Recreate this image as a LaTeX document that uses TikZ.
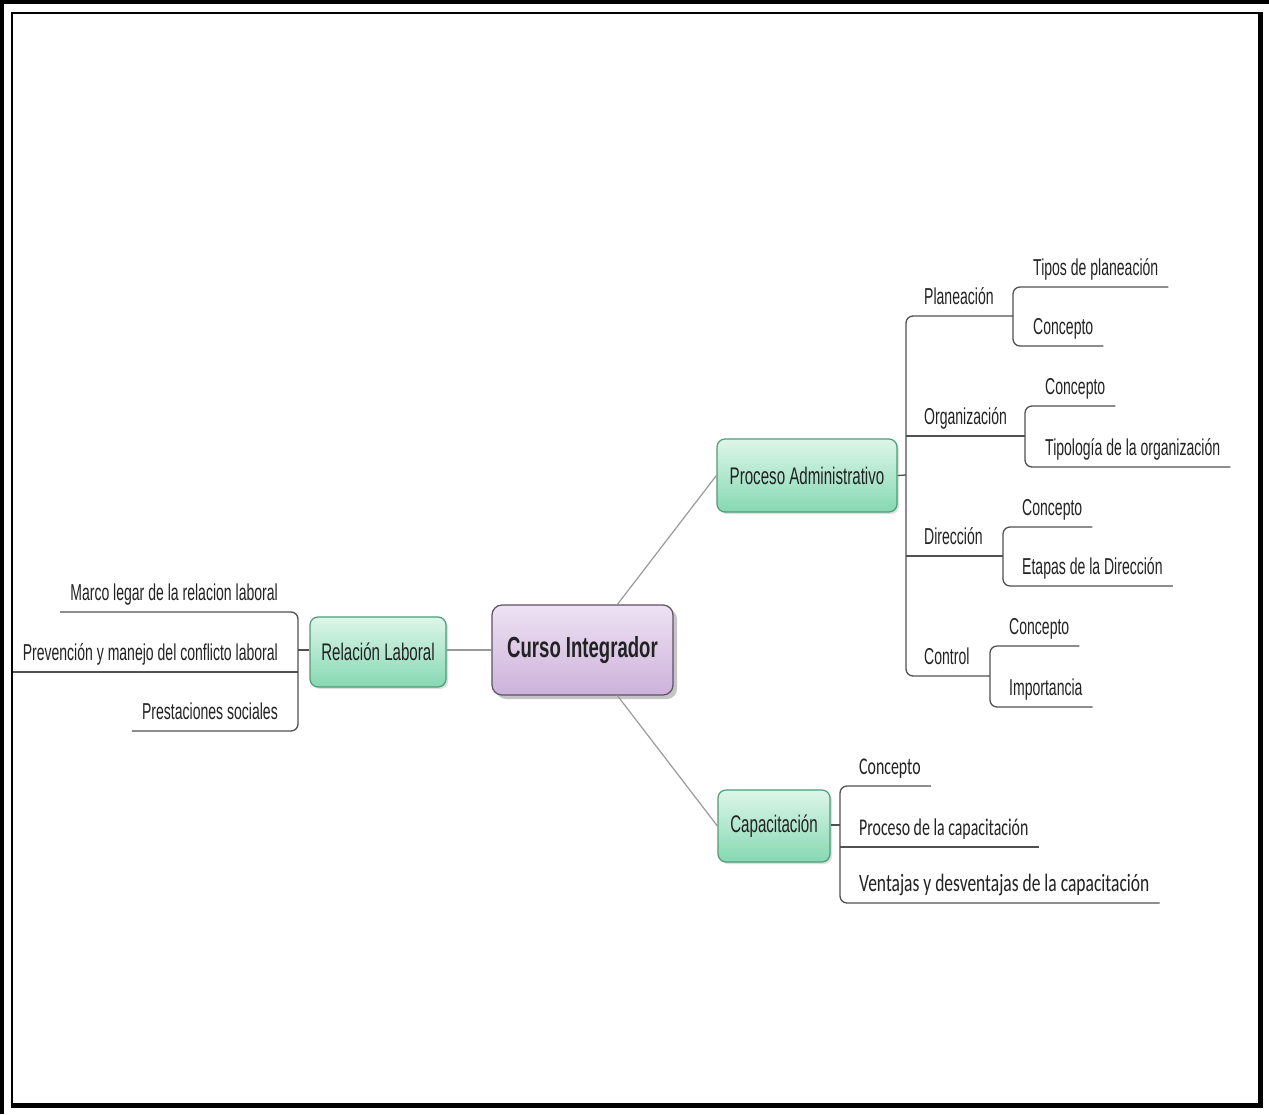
\documentclass[tikz,border=0pt]{standalone}
\usepackage{fontspec}
\usetikzlibrary{shadows}
\newfontfamily\narf[FakeStretch=0.61]{Liberation Sans}
\newfontfamily\narbox[FakeStretch=0.63]{Liberation Sans}
\newfontfamily\narbold[FakeStretch=0.64]{Liberation Sans Bold}
\newfontfamily\calf[FakeStretch=0.66]{Carlito}
\newfontfamily\calw[FakeStretch=0.70]{Carlito}
\definecolor{txt}{HTML}{222222}
\definecolor{ulc}{HTML}{505050}
\definecolor{conc}{HTML}{9A9A9A}
\definecolor{gtop}{HTML}{DDF6E9}
\definecolor{gbot}{HTML}{86D8B2}
\definecolor{gbord}{HTML}{4C9C78}
\definecolor{ptop}{HTML}{EEE2F3}
\definecolor{pbot}{HTML}{CDB2DB}
\definecolor{pbord}{HTML}{5E5066}
\tikzset{
  greenbox/.style={draw=gbord, line width=1.2pt, rounded corners=8pt,
    top color=gtop, bottom color=gbot, text=txt, align=center,
    font=\narbox\fontsize{24}{28}\selectfont,
    drop shadow={shadow xshift=2pt, shadow yshift=-2pt, opacity=0.25}},
  purplebox/.style={draw=pbord, line width=1.2pt, rounded corners=10pt,
    top color=ptop, bottom color=pbot, text=txt, align=center,
    font=\narbold\fontsize{29}{33}\selectfont,
    drop shadow={shadow xshift=4pt, shadow yshift=-4pt, opacity=0.45}},
  leaf/.style={inner xsep=10pt, inner ysep=5pt, text=txt,
    text height=17pt, text depth=6pt, font=\narf\fontsize{23}{27}\selectfont},
  leafr/.style={leaf, anchor=south west},
  leafl/.style={leaf, anchor=south east},
  leafc/.style={leafr, font=\calf\fontsize{24}{28}\selectfont},
  leafw/.style={leafr, font=\calw\fontsize{25}{29}\selectfont},
  ul/.style={draw=ulc, line width=1.3pt},
  conn/.style={draw=conc, line width=1.2pt},
}
\begin{document}
\begin{tikzpicture}[x=1pt,y=-1pt]
\useasboundingbox (0,0) rectangle (1269,1114);
% frame
\fill[white] (0,0) rectangle (1269,1114);
\fill[black] (0,0) rectangle (1269,4);
\fill[black] (0,0) rectangle (4,1114);
\fill[black] (11,12) rectangle (1263,14);
\fill[black] (11,12) rectangle (13,1108);
\fill[black] (1258,12) rectangle (1263,1108);
\fill[black] (11,1103) rectangle (1263,1108);

% coordinates
\coordinate (pv) at (906,475);
\coordinate (mt) at (906,316);
\coordinate (mb) at (906,676);
\coordinate (mo) at (906,436);
\coordinate (md) at (906,556);
\coordinate (pbt) at (1013,287);
\coordinate (pbm) at (1013,316);
\coordinate (pbb) at (1013,346);
\coordinate (obt) at (1025,406);
\coordinate (obm) at (1025,436);
\coordinate (obb) at (1025,467);
\coordinate (dbt) at (1003,527);
\coordinate (dbm) at (1003,556);
\coordinate (dbb) at (1003,586);
\coordinate (cbt) at (990,646);
\coordinate (cbm) at (990,676);
\coordinate (cbb) at (990,707);
\coordinate (rbt) at (298,612);
\coordinate (rbm) at (298,650);
\coordinate (rr2) at (298,672);
\coordinate (rbb) at (298,731);
\coordinate (kbt) at (840,786);
\coordinate (kbm) at (840,825);
\coordinate (kk2) at (840,847);
\coordinate (kbb) at (840,903);

% leaf nodes
\node[leafr] (plan) at (914,316) {Planeación};
\node[leafr] (org)  at (914,436) {Organización};
\node[leafr] (dir)  at (914,556) {Dirección};
\node[leafr] (ctrl) at (914,676) {Control};
\node[leafr] (p1) at (1023,287) {Tipos de planeación};
\node[leafr] (p2) at (1023,346) {Concepto};
\node[leafr] (o1) at (1035,406) {Concepto};
\node[leafr] (o2) at (1035,467) {Tipología de la organización};
\node[leafr] (d1) at (1012,527) {Concepto};
\node[leafr] (d2) at (1012,586) {Etapas de la Dirección};
\node[leafr] (c1) at (999,646) {Concepto};
\node[leafr] (c2) at (999,707) {Importancia};
\node[leafl] (r1) at (288,612) {Marco legar de la relacion laboral};
\node[leafl] (r2) at (288,672) {Prevención y manejo del conflicto laboral};
\node[leafl] (r3) at (288,731) {Prestaciones sociales};
\node[leafc] (k1) at (849,786) {Concepto};
\node[leafc] (k2) at (849,847) {Proceso de la capacitación};
\node[leafw] (k3) at (849,903) {Ventajas y desventajas de la capacitación};

% main boxes
\node[greenbox, minimum width=180pt, minimum height=73pt] (proc) at (807,475.5) {Proceso Administrativo};
\node[greenbox, minimum width=136pt, minimum height=70pt] (rel) at (378,652) {Relación Laboral};
\node[greenbox, minimum width=112pt, minimum height=72pt] (cap) at (774,826) {Capacitación};
\node[purplebox, minimum width=181pt, minimum height=90pt] (curso) at (582.5,650) {Curso Integrador};

% central connectors
\draw[conn] (curso) -- (proc.west);
\draw[conn] (curso) -- (cap.west);
\draw[conn] (curso.west) -- (rel.east |- curso.west);

% Proceso Administrativo branches
\draw[ul] (proc.east) -- (pv);
\draw[ul, rounded corners=7pt] (pbm) -- (mt) -- (mb) -- (cbm);
\draw[ul] (mo) -- (obm);
\draw[ul] (md) -- (dbm);
\draw[ul, rounded corners=7pt] (p1.south east) -- (pbt) -- (pbb) -- (p2.south east);
\draw[ul, rounded corners=7pt] (o1.south east) -- (obt) -- (obb) -- (o2.south east);
\draw[ul, rounded corners=7pt] (d1.south east) -- (dbt) -- (dbb) -- (d2.south east);
\draw[ul, rounded corners=7pt] (c1.south east) -- (cbt) -- (cbb) -- (c2.south east);

% Relacion Laboral branches
\draw[ul] (rel.west |- rbm) -- (rbm);
\draw[ul, rounded corners=7pt] (r1.south west) -- (rbt) -- (rbb) -- (r3.south west);
\draw[ul] (r2.south west) -- (rr2);

% Capacitacion branches
\draw[ul] (cap.east |- kbm) -- (kbm);
\draw[ul, rounded corners=7pt] (k1.south east) -- (kbt) -- (kbb) -- (k3.south east);
\draw[ul] (k2.south east) -- (kk2);
\end{tikzpicture}
\end{document}
